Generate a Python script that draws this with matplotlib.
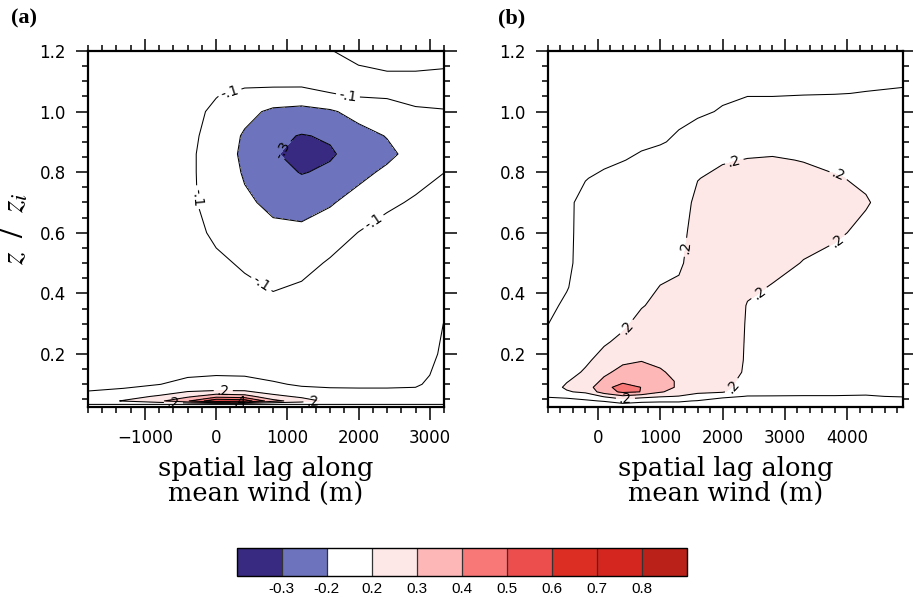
import numpy as np
import matplotlib
matplotlib.use("Agg")
import matplotlib.pyplot as plt
from matplotlib.ticker import MultipleLocator, FormatStrFormatter

plt.rcParams["mathtext.fontset"] = "stix"

#
#   DONNEES : correlation (lignes = z/zi, colonnes = decalage x)
#
xa = [-1800, -1300, -800, -400, 0, 400, 800, 1200, 1600, 2000, 2400, 2800, 3200]
za = [0.025, 0.035, 0.045, 0.06, 0.08, 0.1, 0.13, 0.2, 0.3, 0.4, 0.5,
      0.6, 0.7, 0.8, 0.86, 0.92, 1.0, 1.05, 1.1, 1.15, 1.2]
corr_a = [
    [0.04, 0.04, 0.04, 0.04, 0.04, 0.04, 0.04, 0.04, 0.04, 0.04, 0.04, 0.04, 0.04],
    [0.11, 0.11, 0.11, 0.11, 0.11, 0.11, 0.11, 0.11, 0.11, 0.11, 0.11, 0.11, 0.11],
    [0.16, 0.205, 0.28, 0.39, 0.58, 0.56, 0.33, 0.25, 0.17, 0.15, 0.15, 0.15, 0.16],
    [0.14, 0.17, 0.21, 0.28, 0.36, 0.34, 0.23, 0.18, 0.15, 0.14, 0.14, 0.14, 0.16],
    [0.095, 0.115, 0.15, 0.18, 0.195, 0.19, 0.14, 0.12, 0.115, 0.112, 0.112, 0.115, 0.15],
    [0.06, 0.07, 0.098, 0.13, 0.15, 0.14, 0.11, 0.09, 0.08, 0.08, 0.08, 0.085, 0.15],
    [0.03, 0.04, 0.06, 0.09, 0.098, 0.095, 0.08, 0.06, 0.05, 0.05, 0.05, 0.06, 0.14],
    [0.0, 0.01, 0.02, 0.03, 0.04, 0.04, 0.03, 0.02, 0.01, 0.01, 0.01, 0.03, 0.12],
    [-0.01, -0.01, -0.01, -0.02, -0.01, -0.03, -0.04, -0.03, -0.02, -0.01, 0.0, 0.02, 0.102],
    [-0.02, -0.02, -0.03, -0.04, -0.05, -0.08, -0.097, -0.08, -0.05, -0.03, -0.02, 0.0, 0.06],
    [-0.02, -0.03, -0.04, -0.05, -0.085, -0.11, -0.145, -0.13, -0.09, -0.06, -0.04, -0.02, 0.02],
    [-0.02, -0.03, -0.05, -0.07, -0.115, -0.16, -0.18, -0.18, -0.145, -0.098, -0.07, -0.05, -0.02],
    [-0.02, -0.03, -0.05, -0.085, -0.13, -0.185, -0.22, -0.235, -0.21, -0.16, -0.115, -0.09, -0.06],
    [-0.02, -0.03, -0.05, -0.085, -0.135, -0.21, -0.265, -0.305, -0.285, -0.23, -0.18, -0.13, -0.101],
    [-0.02, -0.03, -0.05, -0.085, -0.135, -0.222, -0.29, -0.335, -0.31, -0.265, -0.225, -0.16, -0.115],
    [-0.02, -0.03, -0.05, -0.08, -0.13, -0.212, -0.28, -0.305, -0.29, -0.24, -0.195, -0.14, -0.115],
    [-0.02, -0.03, -0.04, -0.075, -0.115, -0.17, -0.22, -0.23, -0.215, -0.16, -0.13, -0.105, -0.102],
    [-0.02, -0.03, -0.04, -0.06, -0.098, -0.125, -0.14, -0.15, -0.105, -0.098, -0.095, -0.09, -0.09],
    [-0.02, -0.03, -0.03, -0.045, -0.07, -0.08, -0.075, -0.07, -0.085, -0.085, -0.09, -0.09, -0.09],
    [-0.02, -0.02, -0.03, -0.035, -0.05, -0.06, -0.06, -0.075, -0.092, -0.099, -0.105, -0.105, -0.102],
    [-0.02, -0.02, -0.03, -0.03, -0.04, -0.05, -0.055, -0.075, -0.098, -0.115, -0.12, -0.12, -0.12],
]

xb = [-800, -500, -200, 100, 400, 700, 1000, 1300, 1600, 2000, 2400, 2800, 3300, 3800, 4300, 4900]
zb = [0.025, 0.045, 0.06, 0.075, 0.09, 0.11, 0.14, 0.18, 0.24, 0.3, 0.36,
      0.42, 0.5, 0.6, 0.7, 0.78, 0.84, 0.9, 1.0, 1.06, 1.12, 1.2]
# colonnes (une par valeur de xb), de bas en haut
colonnes_b = [
    [0.05, 0.08, 0.105, 0.13, 0.15, 0.16, 0.16, 0.15, 0.13, 0.099, 0.08, 0.07, 0.07, 0.07, 0.06, 0.06, 0.05, 0.05, 0.04, 0.04, 0.03, 0.03],
    [0.05, 0.085, 0.11, 0.19, 0.215, 0.195, 0.17, 0.16, 0.15, 0.13, 0.115, 0.095, 0.085, 0.085, 0.09, 0.075, 0.06, 0.05, 0.045, 0.04, 0.035, 0.03],
    [0.05, 0.09, 0.13, 0.22, 0.25, 0.24, 0.21, 0.185, 0.17, 0.16, 0.15, 0.14, 0.13, 0.125, 0.115, 0.098, 0.085, 0.07, 0.055, 0.05, 0.04, 0.035],
    [0.04, 0.105, 0.21, 0.35, 0.37, 0.32, 0.28, 0.23, 0.19, 0.175, 0.165, 0.155, 0.145, 0.14, 0.13, 0.11, 0.09, 0.08, 0.065, 0.055, 0.05, 0.04],
    [0.04, 0.14, 0.28, 0.42, 0.44, 0.38, 0.33, 0.28, 0.22, 0.185, 0.175, 0.165, 0.16, 0.15, 0.14, 0.125, 0.098, 0.085, 0.07, 0.06, 0.055, 0.045],
    [0.05, 0.115, 0.24, 0.398, 0.398, 0.37, 0.34, 0.295, 0.26, 0.225, 0.195, 0.18, 0.17, 0.16, 0.15, 0.135, 0.11, 0.09, 0.075, 0.065, 0.06, 0.05],
    [0.05, 0.11, 0.21, 0.31, 0.33, 0.33, 0.31, 0.28, 0.26, 0.24, 0.22, 0.202, 0.18, 0.17, 0.16, 0.145, 0.125, 0.095, 0.08, 0.07, 0.065, 0.055],
    [0.05, 0.11, 0.195, 0.26, 0.29, 0.29, 0.275, 0.26, 0.25, 0.24, 0.225, 0.21, 0.19, 0.18, 0.17, 0.16, 0.14, 0.11, 0.085, 0.075, 0.07, 0.06],
    [0.05, 0.095, 0.17, 0.215, 0.24, 0.25, 0.255, 0.255, 0.25, 0.245, 0.24, 0.235, 0.23, 0.225, 0.215, 0.198, 0.17, 0.135, 0.09, 0.08, 0.075, 0.065],
    [0.05, 0.08, 0.11, 0.21, 0.235, 0.245, 0.25, 0.25, 0.25, 0.25, 0.245, 0.24, 0.24, 0.235, 0.23, 0.215, 0.195, 0.17, 0.105, 0.09, 0.08, 0.07],
    [0.05, 0.08, 0.098, 0.12, 0.14, 0.16, 0.185, 0.19, 0.192, 0.194, 0.197, 0.21, 0.225, 0.235, 0.235, 0.225, 0.202, 0.18, 0.125, 0.095, 0.085, 0.075],
    [0.05, 0.08, 0.098, 0.115, 0.13, 0.14, 0.15, 0.155, 0.16, 0.17, 0.18, 0.197, 0.215, 0.23, 0.235, 0.225, 0.205, 0.18, 0.125, 0.095, 0.085, 0.08],
    [0.05, 0.08, 0.098, 0.11, 0.12, 0.13, 0.135, 0.14, 0.145, 0.15, 0.16, 0.175, 0.198, 0.215, 0.225, 0.215, 0.198, 0.175, 0.12, 0.098, 0.09, 0.085],
    [0.05, 0.08, 0.098, 0.11, 0.115, 0.12, 0.125, 0.13, 0.135, 0.14, 0.15, 0.16, 0.18, 0.21, 0.22, 0.205, 0.185, 0.165, 0.12, 0.099, 0.09, 0.085],
    [0.05, 0.08, 0.098, 0.105, 0.11, 0.115, 0.12, 0.12, 0.125, 0.13, 0.135, 0.145, 0.16, 0.185, 0.205, 0.19, 0.175, 0.16, 0.12, 0.101, 0.092, 0.09],
    [0.05, 0.085, 0.102, 0.105, 0.105, 0.11, 0.115, 0.115, 0.12, 0.12, 0.125, 0.13, 0.14, 0.155, 0.165, 0.16, 0.155, 0.145, 0.125, 0.105, 0.09, 0.085],
]

# niveaux de remplissage et couleurs (barre de couleur)
niveaux_remplissage = [-1.0, -0.3, -0.2, 0.2, 0.3, 0.4, 0.5, 0.6, 0.7, 0.8, 1.0]
couleurs = ["#372a80", "#6d74bd", "#ffffff", "#fde7e7", "#fdb7b7",
            "#f87878", "#ec4e4e", "#dc2e23", "#d4251e", "#ba2219"]
etiquettes_barre = ["-0.3", "-0.2", "0.2", "0.3", "0.4", "0.5", "0.6", "0.7", "0.8"]
niveaux_lignes = [-0.3, -0.2, -0.1, 0.1, 0.2, 0.3, 0.4, 0.5]

xticks_a = [-1000, 0, 1000, 2000, 3000]
xticks_b = [0, 1000, 2000, 3000, 4000]
yticks = [0.2, 0.4, 0.6, 0.8, 1.0, 1.2]

# positions des etiquettes de contours {niveau: liste de points}
labels_a = {-0.1: [(197, 1.06), (1845, 1.045), (-268, 0.717), (2197, 0.641), (577, 0.41)],
            -0.3: [(900, 0.88)],
            0.2: [(100, 0.083), (1360, 0.042), (-600, 0.04)],
            0.4: [(330, 0.045)]}
labels_b = {0.2: [(2196, 0.829), (3871, 0.796), (1372, 0.553), (3923, 0.553),
                  (2595, 0.399), (522, 0.278), (2223, 0.085), (442, 0.053)]}


def format_ncl(v):
    # ".2", "-.1" comme NCL
    return f"{v:.1f}".replace("0.", ".")


def tracePanneau(ax, x, z, champ, xlim, xticks, positions):
    X, Z = np.meshgrid(x, z)
    cf = ax.contourf(X, Z, champ, levels=niveaux_remplissage, colors=couleurs)
    # une ligne par niveau (clabel manuel ne marche bien que niveau par niveau)
    for niveau in niveaux_lignes:
        cs = ax.contour(X, Z, champ, levels=[niveau], colors="black",
                        linewidths=0.75, linestyles="solid")
        if niveau in positions and len(cs.allsegs[0]) > 0:
            ax.clabel(cs, manual=positions[niveau], inline=True, inline_spacing=3,
                      fontsize=10, fmt=format_ncl)

    ax.set_xlim(*xlim)
    ax.set_ylim(0.025, 1.2)
    ax.set_xticks(xticks)
    ax.set_yticks(yticks)
    ax.xaxis.set_minor_locator(MultipleLocator(200))
    ax.yaxis.set_minor_locator(MultipleLocator(0.05))
    ax.yaxis.set_major_formatter(FormatStrFormatter("%.1f"))
    ax.tick_params(which="both", direction="out", top=True, right=True,
                   labelsize=12, width=1.1, pad=7)
    ax.tick_params(which="major", length=9)
    ax.tick_params(which="minor", length=4.5)
    for s in ax.spines.values():
        s.set_linewidth(1.6)
    ax.set_xlabel("spatial lag along\nmean wind (m)", family="DejaVu Serif",
                  fontsize=18.5, labelpad=6, linespacing=1.0)
    return cf


fig = plt.figure(figsize=(9.13, 6.01), dpi=100)
ax_a = fig.add_axes([88 / 913, 194 / 601, 356 / 913, 356 / 601])
ax_b = fig.add_axes([548 / 913, 194 / 601, 355.3 / 913, 356 / 601])
cax = fig.add_axes([236.7 / 913, 25 / 601, 450 / 913, 28.3 / 601])

champ_a = np.array(corr_a)
champ_b = np.array(colonnes_b).T

cf = tracePanneau(ax_a, xa, za, champ_a, (-1800, 3200), xticks_a, labels_a)
tracePanneau(ax_b, xb, zb, champ_b, (-800, 4900), xticks_b, labels_b)

ax_a.set_ylabel(r"$z\ \ /\ \ z_i$", fontsize=23, labelpad=6)

fig.text(0.012, 0.970, "(a)", family="Liberation Serif", weight="bold",
         fontsize=16, va="center", ha="left")
fig.text(0.545, 0.970, "(b)", family="Liberation Serif", weight="bold",
         fontsize=16, va="center", ha="left")

# barre de couleur
cb = fig.colorbar(cf, cax=cax, orientation="horizontal", spacing="uniform",
                  drawedges=True)
cb.set_ticks(niveaux_remplissage[1:-1], labels=etiquettes_barre)
cb.ax.tick_params(length=0, labelsize=11, pad=4)
for t in cb.ax.get_xticklabels():
    t.set_family("Liberation Sans")
cb.outline.set_linewidth(1.0)
cb.dividers.set_color("#333333")
cb.dividers.set_linewidth(0.9)

fig.savefig("out.png", dpi=100)
